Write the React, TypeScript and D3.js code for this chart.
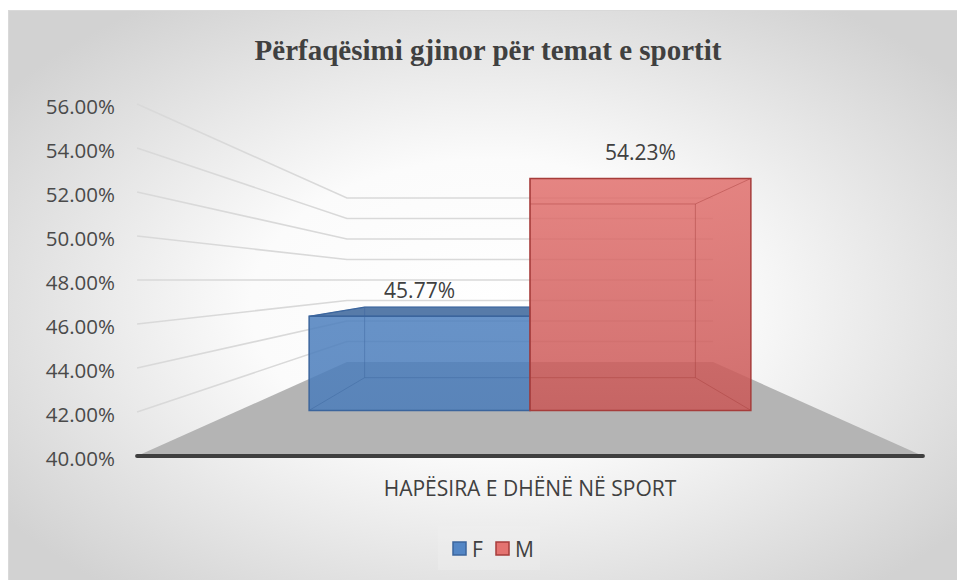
import React from 'react';
import * as d3 from 'd3';

// chart data
const title = 'Përfaqësimi gjinor për temat e sportit';
const category = 'HAPËSIRA E DHËNË NË SPORT';
const series = ['F', 'M'];
const values = [0.4577, 0.5423];
const yTicks = [0.4, 0.42, 0.44, 0.46, 0.48, 0.5, 0.52, 0.54, 0.56];

const seriesStyle: any = {
  F: { top: '#5386c5', bottom: '#4a7cba', lid: '#3a649a', edge: '#3b659d' },
  M: { top: '#e47370', bottom: '#c95756', lid: '#b84a48', edge: '#a63d3b' },
};

const W = 957;
const H = 580;
const font = "'Open Sans', sans-serif";

// simple perspective camera (Excel style 3D column)
const cx = 530;
const horizonY = 280;
const eyeValue = 0.48;
const worldY = d3.scaleLinear().domain([0.4, 0.56]).range([-8, 8]);
const depth = d3.scaleLinear().domain([0, 1]).range([1 / 22, 1 / 10.25]);
const halfFloor = 17.86;
const xBand = d3.scaleBand().domain(series).range([-13.55, 13.55]).padding(0);
const barFront = 0.305;
const barBack = 0.7;

function project(u: number, v: number, t: number): [number, number] {
  const s = 1 / depth(t);
  return [cx + u * s, horizonY - (worldY(v) - worldY(eyeValue)) * s];
}

const pts = (arr: [number, number][]) => arr.map(p => p.join(',')).join(' ');
const fmt = d3.format('.2%');

export default function App() {
  const floor = [
    project(-halfFloor, 0.4, 0),
    project(halfFloor, 0.4, 0),
    project(halfFloor, 0.4, 1),
    project(-halfFloor, 0.4, 1),
  ];
  const frontLeft = project(-halfFloor, 0.4, 0);
  const frontRight = project(halfFloor, 0.4, 0);

  const yTopFront = project(0, 0.56, barFront)[1];
  const yBaseFront = project(0, 0.4, barFront)[1];

  return (
    <svg width={W} height={H} style={{ position: 'absolute', left: 0, top: 0 }}>
      <defs>
        <radialGradient id="bg" cx="0.5" cy="0.5" r="0.62">
          <stop offset="0" stopColor="#ffffff" />
          <stop offset="0.4" stopColor="#fbfbfb" />
          <stop offset="1" stopColor="#d2d2d2" />
        </radialGradient>
        {series.map(s => (
          <linearGradient key={s} id={'g' + s} gradientUnits="userSpaceOnUse" x1="0" x2="0" y1={yTopFront} y2={yBaseFront}>
            <stop offset="0" stopColor={seriesStyle[s].top} />
            <stop offset="1" stopColor={seriesStyle[s].bottom} />
          </linearGradient>
        ))}
      </defs>
      <rect x={8.5} y={10.5} width={962} height={590} fill="url(#bg)" stroke="#d9d9d9" />

      <text x={488} y={60} textAnchor="middle" fontFamily="'Liberation Serif', serif" fontWeight="bold" fontSize={29} fill="#404040">
        {title}
      </text>

      {/* walls: gridlines on the side wall and the back wall */}
      {yTicks.filter(v => v > 0.4).map(v => {
        const a = project(-halfFloor, v, 0);
        const b = project(-halfFloor, v, 1);
        const c = project(halfFloor, v, 1);
        return <polyline key={v} points={pts([a, b, c])} fill="none" stroke="#d9d9d9" strokeWidth={1.6} />;
      })}

      <polygon points={pts(floor)} fill="#b4b4b4" />

      {/* bars */}
      {series.map((s, i) => {
        const st = seriesStyle[s];
        const u0 = xBand(s) as number;
        const u1 = u0 + xBand.bandwidth();
        const v = values[i];
        const P = (u: number, val: number, t: number) => project(u, val, t);
        const f00 = P(u0, 0.4, barFront), f10 = P(u1, 0.4, barFront), f11 = P(u1, v, barFront), f01 = P(u0, v, barFront);
        const b00 = P(u0, 0.4, barBack), b10 = P(u1, 0.4, barBack), b11 = P(u1, v, barBack), b01 = P(u0, v, barBack);
        const lidVisible = v < eyeValue;
        const inner: [number, number][][] = [
          [b00, b10], [b10, b11], [b11, b01], [b01, b00],
          [f00, b00], [f10, b10], [f11, b11], [f01, b01],
        ];
        return (
          <g key={s}>
            <polygon points={pts([f00, f10, f11, f01])} fill={'url(#g' + s + ')'} fillOpacity={0.85} />
            {lidVisible && <polygon points={pts([f01, f11, b11, b01])} fill={st.lid} fillOpacity={0.85} />}
            {inner.map((e, k) => (
              <line key={k} x1={e[0][0]} y1={e[0][1]} x2={e[1][0]} y2={e[1][1]} stroke={st.edge} strokeOpacity={0.45} strokeWidth={1} />
            ))}
            {lidVisible && <polygon points={pts([f01, f11, b11, b01])} fill="none" stroke={st.edge} strokeWidth={1.3} />}
            <polygon points={pts([f00, f10, f11, f01])} fill="none" stroke={st.edge} strokeWidth={1.5} />
            <text x={(f00[0] + f10[0]) / 2} y={f01[1] - 18} textAnchor="middle" fontFamily={font} fontSize={21} fill="#404040">
              {fmt(v)}
            </text>
          </g>
        );
      })}

      <line x1={frontLeft[0]} y1={frontLeft[1]} x2={frontRight[0]} y2={frontRight[1]} stroke="#3f3f3f" strokeWidth={4} strokeLinecap="round" />

      {/* value axis labels on the front edge of the side wall */}
      {yTicks.map(v => {
        const p = project(-halfFloor, v, 0);
        return (
          <text key={v} x={115} y={p[1] + 2} dominantBaseline="central" textAnchor="end" fontFamily={font} fontSize={20.5} fill="#4a4a4a">
            {fmt(v)}
          </text>
        );
      })}

      <text x={530} y={496} textAnchor="middle" fontFamily={font} fontSize={21} fill="#404040">
        {category}
      </text>

      {/* legend */}
      <rect x={438} y={526} width={102} height={44} fill="#f2f2f2" fillOpacity={0.35} />
      {series.map((s, i) => {
        const lx = 453 + i * 43;
        return (
          <g key={s}>
            <rect x={lx} y={542} width={13} height={13} fill={seriesStyle[s].top} stroke={seriesStyle[s].edge} strokeWidth={1.5} />
            <text x={lx + 19} y={557} fontFamily={font} fontSize={21} fill="#404040">{s}</text>
          </g>
        );
      })}
    </svg>
  );
}
